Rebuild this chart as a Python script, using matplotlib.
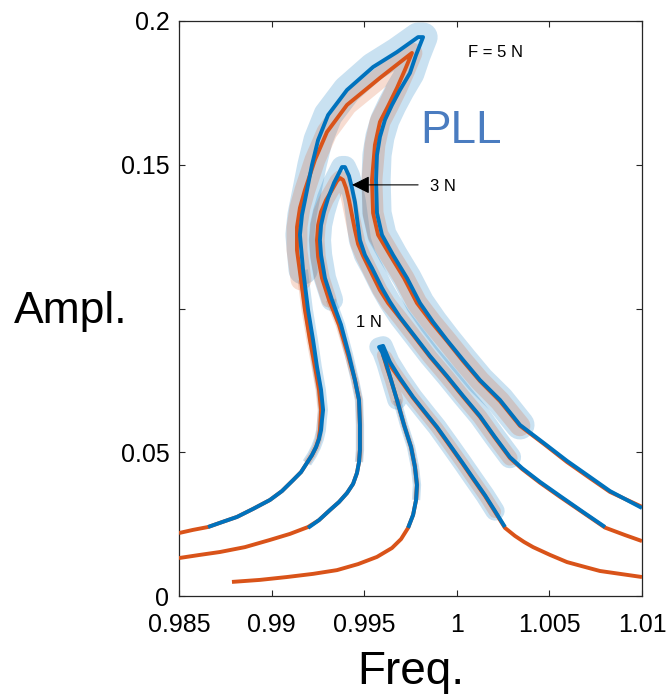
import matplotlib
matplotlib.use('Agg')
import matplotlib.pyplot as plt
import numpy as np

# ---------------- data ----------------
f5_blue_x = [0.98657, 0.98732, 0.98813, 0.98900, 0.98991, 0.99056, 0.99116, 0.99159, 0.99191, 0.99218,
             0.99240, 0.99256, 0.99267, 0.99272, 0.99278, 0.99267, 0.99245,
             0.99224, 0.99197, 0.99170, 0.99153, 0.99164, 0.99186, 0.99218, 0.99251, 0.99305, 0.99407,
             0.99548, 0.99677, 0.99791, 0.99818, 0.99780, 0.99747, 0.99693, 0.99650, 0.99612, 0.99585,
             0.99569, 0.99564, 0.99569, 0.99596, 0.99656, 0.99731, 0.99801, 0.99872, 0.99947, 1.00034,
             1.00125, 1.00233, 1.00341, 1.00476, 1.00595, 1.00719, 1.00827, 1.01000]
f5_blue_y = [0.0240, 0.0257, 0.0275, 0.0303, 0.0334, 0.0365, 0.0403, 0.0431, 0.0463, 0.0490,
             0.0518, 0.0546, 0.0577, 0.0612, 0.0647, 0.0717, 0.0797,
             0.0890, 0.0995, 0.1134, 0.1256, 0.1325, 0.1395, 0.1499, 0.1586, 0.1673, 0.1760,
             0.1840, 0.1892, 0.1944, 0.1944, 0.1882, 0.1819, 0.1760, 0.1708, 0.1656, 0.1597,
             0.1534, 0.1447, 0.1332, 0.1256, 0.1186, 0.1106, 0.1019, 0.0953, 0.0890, 0.0821,
             0.0751, 0.0682, 0.0595, 0.0529, 0.0470, 0.0414, 0.0365, 0.0306]

f5_red_x = [0.98500, 0.98576, 0.98657, 0.98732, 0.98813, 0.98900, 0.98991, 0.99056, 0.99116, 0.99159,
            0.99191, 0.99218, 0.99240, 0.99254, 0.99261, 0.99267, 0.99256,
            0.99234, 0.99207, 0.99180, 0.99159, 0.99137, 0.99137, 0.99153, 0.99180, 0.99234, 0.99299,
            0.99407, 0.99585, 0.99758, 0.99720, 0.99677, 0.99629, 0.99585, 0.99558, 0.99542, 0.99548,
            0.99575, 0.99639, 0.99715, 0.99785, 0.99866, 0.99947, 1.00034, 1.00125, 1.00233, 1.00341,
            1.00476, 1.00595, 1.00719, 1.00827, 1.01000]
f5_red_y = [0.0219, 0.0230, 0.0240, 0.0257, 0.0275, 0.0303, 0.0334, 0.0365, 0.0403, 0.0431,
            0.0463, 0.0490, 0.0518, 0.0546, 0.0577, 0.0647, 0.0717,
            0.0797, 0.0890, 0.0995, 0.1099, 0.1203, 0.1283, 0.1350, 0.1412, 0.1517, 0.1614,
            0.1708, 0.1802, 0.1889, 0.1830, 0.1767, 0.1704, 0.1649, 0.1569, 0.1447, 0.1332,
            0.1256, 0.1186, 0.1106, 0.1019, 0.0950, 0.0887, 0.0817, 0.0748, 0.0678, 0.0592,
            0.0526, 0.0466, 0.0410, 0.0362, 0.0310]

f3_blue_x = [0.99197, 0.99256, 0.99315, 0.99364, 0.99407, 0.99440, 0.99461, 0.99472, 0.99477, 0.99477,
             0.99472, 0.99450, 0.99418, 0.99375,
             0.99326, 0.99288, 0.99267, 0.99261, 0.99267, 0.99283, 0.99305, 0.99337, 0.99364, 0.99380,
             0.99396, 0.99418, 0.99434, 0.99450, 0.99461, 0.99477, 0.99504, 0.99542, 0.99596, 0.99639,
             0.99693, 0.99764, 0.99855, 0.99947, 1.00034, 1.00125, 1.00206, 1.00287, 1.00352, 1.00449,
             1.00557, 1.00682, 1.00800]
f3_blue_y = [0.0237, 0.0264, 0.0299, 0.0327, 0.0358, 0.0390, 0.0428, 0.0466, 0.0508, 0.0595,
             0.0682, 0.0751, 0.0838, 0.0943,
             0.1030, 0.1106, 0.1186, 0.1238, 0.1290, 0.1336, 0.1384, 0.1437, 0.1471, 0.1492,
             0.1492, 0.1461, 0.1419, 0.1370, 0.1315, 0.1238, 0.1186, 0.1141, 0.1071, 0.1023,
             0.0970, 0.0911, 0.0835, 0.0765, 0.0696, 0.0626, 0.0553, 0.0483, 0.0445, 0.0397,
             0.0348, 0.0292, 0.0240]

f3_red_x = [0.98500, 0.98613, 0.98721, 0.98856, 0.98991, 0.99099, 0.99197, 0.99256, 0.99315, 0.99364,
            0.99407, 0.99440, 0.99461, 0.99472, 0.99477,
            0.99477, 0.99472, 0.99450, 0.99413, 0.99364, 0.99310, 0.99272, 0.99251, 0.99245, 0.99251,
            0.99267, 0.99294, 0.99326, 0.99353, 0.99369, 0.99386, 0.99402, 0.99418, 0.99434, 0.99450,
            0.99467, 0.99494, 0.99526, 0.99585, 0.99629, 0.99693, 0.99764, 0.99855, 0.99947, 1.00034,
            1.00125, 1.00206, 1.00287, 1.00352, 1.00449, 1.00557, 1.00682, 1.00800, 1.00908, 1.01000]
f3_red_y = [0.0132, 0.0143, 0.0153, 0.0170, 0.0195, 0.0216, 0.0240, 0.0264, 0.0299, 0.0327,
            0.0358, 0.0390, 0.0428, 0.0466, 0.0508,
            0.0595, 0.0682, 0.0751, 0.0838, 0.0943, 0.1030, 0.1106, 0.1179, 0.1238, 0.1290,
            0.1336, 0.1377, 0.1412, 0.1443, 0.1454, 0.1447, 0.1419, 0.1377, 0.1325, 0.1273,
            0.1224, 0.1183, 0.1141, 0.1064, 0.1019, 0.0967, 0.0908, 0.0832, 0.0762, 0.0693,
            0.0623, 0.0550, 0.0480, 0.0442, 0.0394, 0.0345, 0.0290, 0.0238, 0.0212, 0.0191]

f1_blue_x = [0.99737, 0.99764, 0.99780, 0.99785, 0.99774, 0.99753, 0.99715, 0.99677, 0.99645, 0.99618,
             0.99596, 0.99580, 0.99602, 0.99639, 0.99693, 0.99764, 0.99828, 0.99893, 0.99963, 1.00028,
             1.00088, 1.00152, 1.00206, 1.00260]
f1_blue_y = [0.0237, 0.0282, 0.0334, 0.0386, 0.0449, 0.0518, 0.0595, 0.0682, 0.0751, 0.0810,
             0.0849, 0.0866, 0.0870, 0.0814, 0.0758, 0.0692, 0.0640, 0.0588, 0.0525, 0.0466,
             0.0410, 0.0351, 0.0296, 0.0240]

f1_red_x = [0.98786, 0.98937, 0.99083, 0.99224, 0.99353, 0.99467, 0.99569, 0.99650, 0.99699, 0.99737,
            0.99764, 0.99780, 0.99785, 0.99774, 0.99753, 0.99715, 0.99677, 0.99645, 0.99623, 0.99607,
            0.99602, 0.99618, 0.99650, 0.99699, 0.99764, 0.99828, 0.99893, 0.99963, 1.00028, 1.00088,
            1.00152, 1.00206, 1.00260, 1.00314, 1.00363, 1.00412, 1.00503, 1.00595, 1.00692, 1.00773,
            1.00881, 1.01000]
f1_red_y = [0.0049, 0.0056, 0.0066, 0.0077, 0.0090, 0.0111, 0.0136, 0.0167, 0.0198, 0.0237,
            0.0282, 0.0334, 0.0386, 0.0449, 0.0518, 0.0595, 0.0682, 0.0751, 0.0793, 0.0828,
            0.0838, 0.0831, 0.0793, 0.0748, 0.0689, 0.0637, 0.0585, 0.0522, 0.0463, 0.0407,
            0.0348, 0.0293, 0.0237, 0.0209, 0.0188, 0.0170, 0.0143, 0.0118, 0.0101, 0.0087,
            0.0077, 0.0066]

x_ticks = [0.985, 0.99, 0.995, 1.0, 1.005, 1.01]
x_tick_labels = ['0.985', '0.99', '0.995', '1', '1.005', '1.01']
y_ticks = [0.0, 0.05, 0.1, 0.15, 0.2]
y_tick_labels = ['0', '0.05', '', '0.15', '0.2']

# ---------------- style ----------------
plt.rcParams['font.family'] = ['Liberation Sans', 'DejaVu Sans']
RED = '#D95319'
BLUE = '#0072BD'
AXC = '#262626'

fig = plt.figure(figsize=(6.69, 6.96), dpi=100)
ax = fig.add_axes([179/669, 1-596/696, 463/669, 575/696])


def band_range(x, y, y_start, x_end):
    x = np.asarray(x); y = np.asarray(y)
    i0 = int(np.argmax(y >= y_start))
    i1 = int(np.nonzero(x <= x_end)[0].max())
    return i0, i1


# band settings: (blue x, blue y, red x, red y, narrow start y, wide start y, end x, widths)
curves = [
    (f5_blue_x, f5_blue_y, f5_red_x, f5_red_y, 0.045, 0.100, 1.00341, (21, 15, 7, 5)),
    (f3_blue_x, f3_blue_y, f3_red_x, f3_red_y, 0.045, 0.100, 1.00287, (16, 11, 6, 5)),
    (f1_blue_x, f1_blue_y, f1_red_x, f1_red_y, 0.030, 0.060, 1.00233, (14, 9, 6, 4)),
]

for bx, by, rx, ry, yn, yw, xe, (bw, rw, bn, rn) in curves:
    for (cx, cy, col, alpha, ww, wn, z) in ((bx, by, BLUE, 0.21, bw, bn, 1),
                                             (rx, ry, RED, 0.20, rw, rn, 2)):
        cx = np.asarray(cx); cy = np.asarray(cy)
        n0, i1 = band_range(cx, cy, yn, xe)
        w0, _ = band_range(cx, cy, yw, xe)
        ax.plot(cx[n0:w0 + 1], cy[n0:w0 + 1], color=col, alpha=alpha, lw=wn,
                solid_capstyle='butt', solid_joinstyle='round', zorder=z)
        ax.plot(cx[w0:i1 + 1], cy[w0:i1 + 1], color=col, alpha=alpha, lw=ww,
                solid_capstyle='round', solid_joinstyle='round', zorder=z)

for rx, ry in ((f5_red_x, f5_red_y), (f3_red_x, f3_red_y), (f1_red_x, f1_red_y)):
    ax.plot(rx, ry, color=RED, lw=2.8, solid_joinstyle='round', solid_capstyle='butt', zorder=3)
for bx, by in ((f5_blue_x, f5_blue_y), (f3_blue_x, f3_blue_y), (f1_blue_x, f1_blue_y)):
    ax.plot(bx, by, color=BLUE, lw=2.8, solid_joinstyle='round', solid_capstyle='butt', zorder=4)

ax.set_xlim(0.985, 1.01)
ax.set_ylim(0, 0.2)
ax.set_xticks(x_ticks)
ax.set_xticklabels(x_tick_labels)
ax.set_yticks(y_ticks)
ax.set_yticklabels(y_tick_labels)
ax.tick_params(direction='in', top=True, right=True, length=4.5, width=0.8,
               color=AXC, labelsize=18, labelcolor='black')
ax.tick_params(axis='x', pad=12)
ax.tick_params(axis='y', pad=7)
for s in ax.spines.values():
    s.set_color(AXC)
    s.set_linewidth(0.9)

# annotations
ax.text(1.00209, 0.1889, 'F = 5 N', fontsize=12, ha='center', va='center', color='black')
ax.text(0.99855, 0.1426, '3 N', fontsize=12, ha='left', va='center', color='black')
ax.text(0.99526, 0.0953, '1 N', fontsize=12, ha='center', va='center', color='black')
ax.annotate('', xy=(0.99434, 0.1430), xytext=(0.99791, 0.1430),
            arrowprops=dict(arrowstyle='-|>,head_length=0.9,head_width=0.45',
                            color='black', lw=0.8, shrinkA=0, shrinkB=0, mutation_scale=12),
            zorder=6)
ax.text(1.00023, 0.1576, 'PLL', fontsize=33, ha='center', va='baseline', color='#4A7CC0')

fig.text(14/669, 1-323/696, 'Ampl.', fontsize=32, ha='left', va='baseline')
fig.text(357/669, 1-684/696, 'Freq.', fontsize=33, ha='left', va='baseline')

fig.savefig('out.png', dpi=100)
